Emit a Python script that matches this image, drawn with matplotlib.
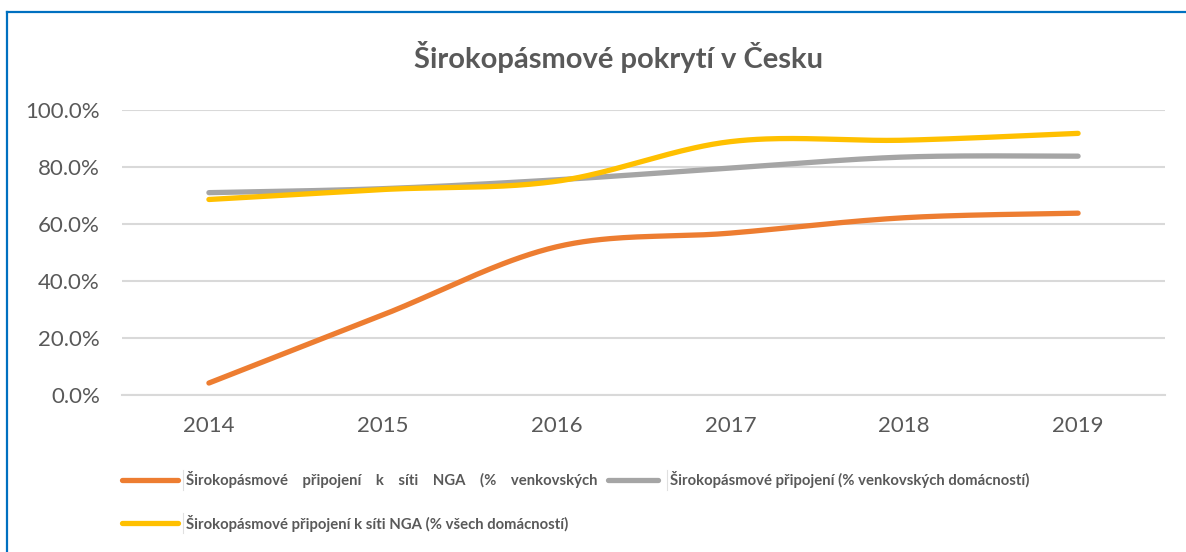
import numpy as np
import matplotlib
matplotlib.use("Agg")
import matplotlib.pyplot as plt
from matplotlib.lines import Line2D
from matplotlib.ticker import FuncFormatter

# ---- data ----
years = ["2014", "2015", "2016", "2017", "2018", "2019"]
nga_rural = [4.2, 28.1, 52.0, 56.8, 62.2, 63.8]
broadband_rural = [71.0, 72.4, 75.5, 79.6, 83.5, 83.8]
nga_all = [68.6, 72.1, 75.0, 88.9, 89.4, 91.8]

series_names = [
    "Širokopásmové    připojení    k    síti    NGA    (%    venkovských",
    "Širokopásmové připojení (% venkovských domácností)",
    "Širokopásmové připojení k síti NGA (% všech domácností)",
]
series_values = [nga_rural, broadband_rural, nga_all]
series_colors = ["#ED7D31", "#A5A5A5", "#FFC000"]
title = "Širokopásmové pokrytí v Česku"

FONT = ["Lato", "DejaVu Sans"]
plt.rcParams["font.family"] = FONT


def smooth(x, y, n=40):
    """Bezier smoothing through the given points (like Excel's 'smoothed line')."""
    x = np.asarray(x, float)
    y = np.asarray(y, float)
    xs, ys = [], []
    for i in range(len(x) - 1):
        p0 = (x[i - 1], y[i - 1]) if i > 0 else (x[i], y[i])
        p1 = (x[i], y[i])
        p2 = (x[i + 1], y[i + 1])
        p3 = (x[i + 2], y[i + 2]) if i + 2 < len(x) else (x[i + 1], y[i + 1])
        c1 = (p1[0] + (p2[0] - p0[0]) / 6, p1[1] + (p2[1] - p0[1]) / 6)
        c2 = (p2[0] - (p3[0] - p1[0]) / 6, p2[1] - (p3[1] - p1[1]) / 6)
        t = np.linspace(0, 1, n)
        bx = (1 - t) ** 3 * p1[0] + 3 * (1 - t) ** 2 * t * c1[0] + 3 * (1 - t) * t ** 2 * c2[0] + t ** 3 * p2[0]
        by = (1 - t) ** 3 * p1[1] + 3 * (1 - t) ** 2 * t * c1[1] + 3 * (1 - t) * t ** 2 * c2[1] + t ** 3 * p2[1]
        xs.extend(bx if i == 0 else bx[1:])
        ys.extend(by if i == 0 else by[1:])
    return np.array(xs), np.array(ys)


W, H = 1186, 552
fig = plt.figure(figsize=(W / 100, H / 100), dpi=100)
fig.patch.set_facecolor("white")

ax = fig.add_axes([122 / W, 1 - 395 / H, (1165 - 122) / W, (395 - 110) / H])
xpos = np.arange(len(years))
for vals, col in zip(series_values, series_colors):
    sx, sy = smooth(xpos, vals)
    ax.plot(sx, sy, color=col, lw=3.8, solid_capstyle="round", zorder=3)

ax.set_xlim(-0.5, 5.5)
ax.set_ylim(0, 100)
ax.set_yticks(np.arange(0, 101, 20))
ax.yaxis.set_major_formatter(FuncFormatter(lambda v, p: f"{v:.1f}%"))
ax.set_xticks(xpos)
ax.set_xticklabels(years)
ax.grid(axis="y", color="#D9D9D9", lw=1.5, zorder=0)
for s in ["top", "right", "left"]:
    ax.spines[s].set_visible(False)
ax.spines["bottom"].set_color("#D9D9D9")
ax.spines["bottom"].set_linewidth(1.5)
ax.tick_params(axis="both", length=0, colors="#595959", labelsize=16)
ax.tick_params(axis="x", pad=15)
ax.tick_params(axis="y", pad=16)

fig.text(618 / W, 1 - 57 / H, title, ha="center", va="center",
         fontsize=21, fontweight="bold", color="#595959")

# legend (drawn manually to mimic Excel layout)
leg_items = [
    (0, 122, 480, 186),
    (1, 608, 480, 670),
    (2, 122, 523, 186),
]
for idx, hx, hy, tx in leg_items:
    hl = 56 if idx != 1 else 50
    fig.add_artist(Line2D([hx / W, (hx + hl) / W], [1 - hy / H, 1 - hy / H],
                          transform=fig.transFigure, color=series_colors[idx],
                          lw=3.8, solid_capstyle="round"))
    fig.add_artist(Line2D([(tx - 3) / W, (tx - 3) / W], [1 - (hy - 10) / H, 1 - (hy + 10) / H],
                          transform=fig.transFigure, color="#E0E0E0", lw=0.8))
    fig.text(tx / W, 1 - hy / H, series_names[idx], ha="left", va="center",
             fontsize=10.75, fontweight="bold", color="#595959")

# blue frame (top and left edges visible)
fig.add_artist(Line2D([7 / W, 1], [1 - 12 / H, 1 - 12 / H], transform=fig.transFigure,
                      color="#0070C0", lw=1.6))
fig.add_artist(Line2D([7 / W, 7 / W], [1 - 12 / H, 0], transform=fig.transFigure,
                      color="#0070C0", lw=1.6))

fig.savefig("out.png", dpi=100)
